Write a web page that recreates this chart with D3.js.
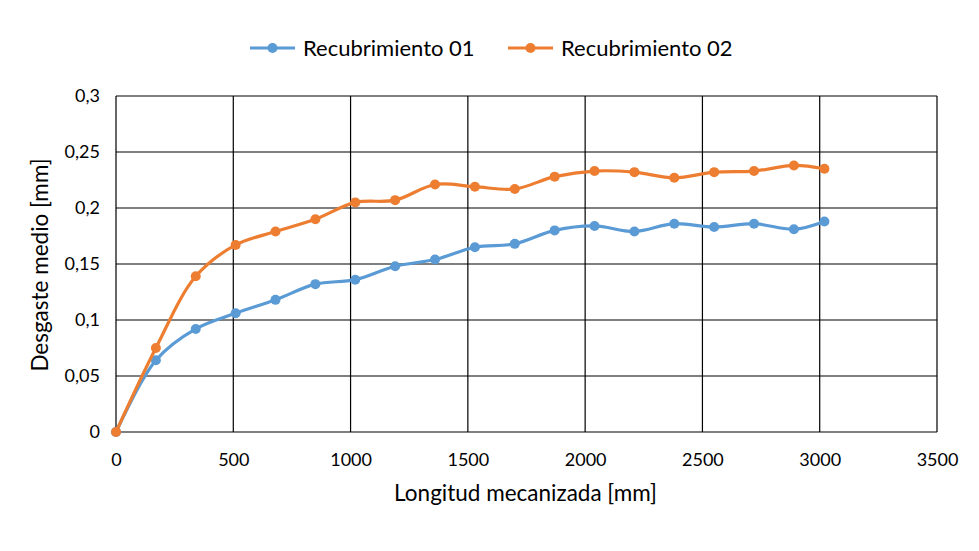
<!DOCTYPE html>
<html><head><meta charset="utf-8">
<script src="https://cdn.jsdelivr.net/npm/d3@7"></script>
<style>body{margin:0;background:#fff}svg{display:block}text{font-family:Lato,"Open Sans",sans-serif;fill:#000}</style>
</head><body>
<svg id="c" width="979" height="551"></svg>
<script>
const lengths = [0,170,340,510,680,850,1020,1190,1360,1530,1700,1870,2040,2210,2380,2550,2720,2890,3020];
const recub01 = [0,0.064,0.092,0.106,0.118,0.132,0.136,0.148,0.154,0.165,0.168,0.180,0.184,0.179,0.186,0.183,0.186,0.181,0.188];
const recub02 = [0,0.075,0.139,0.167,0.179,0.190,0.205,0.207,0.221,0.219,0.217,0.228,0.233,0.232,0.227,0.232,0.233,0.238,0.235];
const seriesNames = ["Recubrimiento 01","Recubrimiento 02"];
const colors = ["#5B9BD5","#ED7D31"];
const xTicks = [0,500,1000,1500,2000,2500,3000,3500];
const yTicks = [0,0.05,0.1,0.15,0.2,0.25,0.3];
const yTickLabels = ["0","0,05","0,1","0,15","0,2","0,25","0,3"];
const xTitle = "Longitud mecanizada [mm]";
const yTitle = "Desgaste medio [mm]";

const svg = d3.select("#c");
const L=116, R=937, T=96, B=432;
const x = d3.scaleLinear().domain([0,3500]).range([L,R]);
const y = d3.scaleLinear().domain([0,0.3]).range([B,T]);

const g = svg.append("g");
g.selectAll(".vx").data(xTicks).join("line").attr("x1",d=>x(d)).attr("x2",d=>x(d)).attr("y1",T).attr("y2",B).attr("stroke","#000").attr("stroke-width",1.2);
g.selectAll(".hy").data(yTicks).join("line").attr("x1",L).attr("x2",R).attr("y1",d=>y(d)).attr("y2",d=>y(d)).attr("stroke","#000").attr("stroke-width",1.2);

const xa = svg.append("g").attr("transform",`translate(0,${B})`).call(d3.axisBottom(x).tickValues(xTicks).tickSize(0).tickPadding(21).tickFormat(d3.format("d")));
xa.select(".domain").remove();
xa.selectAll("text").style("font-size","18px").style("font-family","Lato,sans-serif");
const ya = svg.append("g").attr("transform",`translate(${L},0)`).call(d3.axisLeft(y).tickValues(yTicks).tickSize(0).tickPadding(16).tickFormat((d,i)=>yTickLabels[i]));
ya.select(".domain").remove();
ya.selectAll("text").style("font-size","18px").style("font-family","Lato,sans-serif");

svg.append("text").attr("x",(L+R)/2 - 1).attr("y",501).attr("text-anchor","middle").style("font-size","22.5px").text(xTitle);
svg.append("text").attr("transform",`translate(48,${(T+B)/2 + 1}) rotate(-90)`).attr("text-anchor","middle").style("font-size","22.5px").text(yTitle);

const line = d3.line().x(d=>x(d[0])).y(d=>y(d[1])).curve(d3.curveCatmullRom.alpha(0.5));
[recub01,recub02].forEach((vals,i)=>{
  const pts = lengths.map((l,j)=>[l,vals[j]]);
  svg.append("path").datum(pts).attr("d",line).attr("fill","none").attr("stroke",colors[i]).attr("stroke-width",3.2).attr("stroke-linejoin","round");
  svg.selectAll(".m"+i).data(pts).join("circle").attr("cx",d=>x(d[0])).attr("cy",d=>y(d[1])).attr("r",5).attr("fill",colors[i]);
});

const lx = [250,508];
seriesNames.forEach((n,i)=>{
  const lg = svg.append("g").attr("transform",`translate(${lx[i]},48)`);
  lg.append("line").attr("x1",0).attr("x2",45).attr("stroke",colors[i]).attr("stroke-width",3.2);
  lg.append("circle").attr("cx",22.5).attr("r",5).attr("fill",colors[i]);
  lg.append("text").attr("x",53).attr("y",8).style("font-size","22px").text(n);
});
</script>
</body></html>
